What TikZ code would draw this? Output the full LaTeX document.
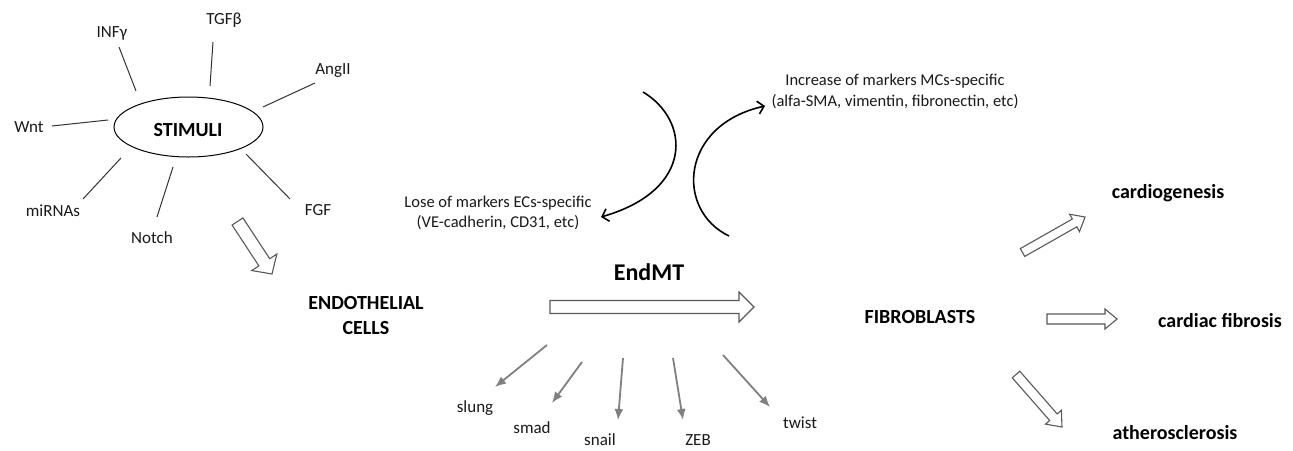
\documentclass[tikz,border=0pt]{standalone}
\usepackage{fontspec}
\setmainfont{Carlito}
\usetikzlibrary{calc,arrows.meta,shapes.geometric}
\newcommand{\hollowarr}[5]{%
  \coordinate (hb) at ($(#2)!#5!(#1)$);
  \draw[hollow] ($(#1)!#3!90:(#2)$) -- ($(hb)!#3!90:(#2)$) -- ($(hb)!#4!90:(#2)$) -- (#2)
    -- ($(hb)!#4!-90:(#2)$) -- ($(hb)!#3!-90:(#2)$) -- ($(#1)!#3!-90:(#2)$) -- cycle;
}
\begin{document}
\begin{tikzpicture}[x=1pt,y=-1pt,
  small/.style={font=\fontsize{17}{21}\selectfont, text=black!90, inner sep=0pt},
  bigb/.style={font=\fontsize{20}{25}\selectfont\bfseries, inner sep=0pt, align=center},
  spoke/.style={line width=1pt, black!80},
  hollow/.style={line width=1.1pt, black!65, fill=white, line join=miter},
  curvarr/.style={line width=1.6pt, -{Straight Barb[length=6pt,width=13pt,line width=1.6pt]}},
  grayarr/.style={line width=1.8pt, black!50, -{Latex[length=11pt,width=9pt]}}]
\useasboundingbox (0,0) rectangle (1293,450);

% STIMULI
\node[draw, ellipse, line width=1pt, minimum width=149pt, minimum height=60pt, inner sep=0pt] (stim) at (188.5,127) {};
\node[bigb] (stimtxt) at (188,130) {STIMULI};
\node[small] (tgf) at (224,20) {TGFβ};
\node[small] (inf) at (112,33) {INFγ};
\node[small] (ang) at (333,71) {AngII};
\node[small] (wnt) at (29,127) {Wnt};
\node[small] (mir) at (53,211) {miRNAs};
\node[small] (notch) at (152,238) {Notch};
\node[small] (fgf) at (318,210) {FGF};

\coordinate (tgfA) at (213,42);  \coordinate (tgfB) at (210,86);
\coordinate (infA) at (119,47);  \coordinate (infB) at (136,91);
\coordinate (angA) at (315,83);  \coordinate (angB) at (263,107);
\coordinate (wntA) at (52,126);  \coordinate (wntB) at (108,120);
\coordinate (mirA) at (83,199);  \coordinate (mirB) at (121,158);
\coordinate (notA) at (157,217); \coordinate (notB) at (173,167);
\coordinate (fgfA) at (290,199); \coordinate (fgfB) at (246,154);
\draw[spoke] (tgfA) -- (tgfB);
\draw[spoke] (infA) -- (infB);
\draw[spoke] (angA) -- (angB);
\draw[spoke] (wntA) -- (wntB);
\draw[spoke] (mirA) -- (mirB);
\draw[spoke] (notA) -- (notB);
\draw[spoke] (fgfA) -- (fgfB);

% Endothelial
\node[bigb] (endo) at (366,316) {ENDOTHELIAL\\CELLS};
\coordinate (s2eA) at (237.5,221.5); \coordinate (s2eB) at (272,274);
\hollowarr{s2eA}{s2eB}{6.5pt}{15pt}{14pt}

% EndMT
\node[font=\fontsize{24}{28}\selectfont\bfseries, inner sep=0pt] (endmt) at (649,272) {EndMT};
\coordinate (emA) at (550,307); \coordinate (emB) at (754,307);
\hollowarr{emA}{emB}{6.5pt}{15pt}{15pt}

% markers
\node[small, font=\fontsize{16.5}{20.5}\selectfont, align=center] (lose) at (498,213)
  {Lose of markers ECs-specific\\(VE-cadherin, CD31, etc)};
\node[small, font=\fontsize{16.5}{21}\selectfont, align=center] (incr) at (895,91.5)
  {Increase of markers MCs-specific\\(alfa-SMA, vimentin, fibronectin, etc)};
\coordinate (arcLs) at (643,92); \coordinate (arcLe) at (601,217);
\coordinate (arcRs) at (729,236); \coordinate (arcRe) at (765,106);
\draw[curvarr] (arcLs) .. controls (690,120) and (695,190) .. (arcLe);
\draw[curvarr] (arcRs) .. controls (675,210) and (680,125) .. (arcRe);

% transcription factors
\node[small] (slung) at (475,408) {slung};
\node[small] (smad) at (532,428) {smad};
\node[small] (snail) at (600,440) {snail};
\node[small] (zeb) at (698,440) {ZEB};
\node[small] (twist) at (800,423) {twist};
\coordinate (slS) at (547,345); \coordinate (slT) at (495,387);
\coordinate (smS) at (582,362); \coordinate (smT) at (552,403);
\coordinate (snS) at (623,358); \coordinate (snT) at (618,420);
\coordinate (zbS) at (673,358); \coordinate (zbT) at (683,420);
\coordinate (twS) at (723,355); \coordinate (twT) at (770,407);
\draw[grayarr] (slS) -- (slT);
\draw[grayarr] (smS) -- (smT);
\draw[grayarr] (snS) -- (snT);
\draw[grayarr] (zbS) -- (zbT);
\draw[grayarr] (twS) -- (twT);

% Fibroblasts and outcomes
\node[bigb] (fibro) at (920,317) {FIBROBLASTS};
\node[bigb] (cardio) at (1168,193) {cardiogenesis};
\node[bigb] (cfib) at (1220,321) {cardiac fibrosis};
\node[bigb] (ather) at (1175,433) {atherosclerosis};
\coordinate (cgA) at (1022.5,252.5); \coordinate (cgB) at (1085,217);
\coordinate (cfA) at (1047,319);     \coordinate (cfB) at (1117,319);
\coordinate (atA) at (1016,374.5);   \coordinate (atB) at (1062,427);
\hollowarr{cgA}{cgB}{4.5pt}{10pt}{12pt}
\hollowarr{cfA}{cfB}{5pt}{10pt}{12pt}
\hollowarr{atA}{atB}{5pt}{10.5pt}{13pt}
\end{tikzpicture}
\end{document}
